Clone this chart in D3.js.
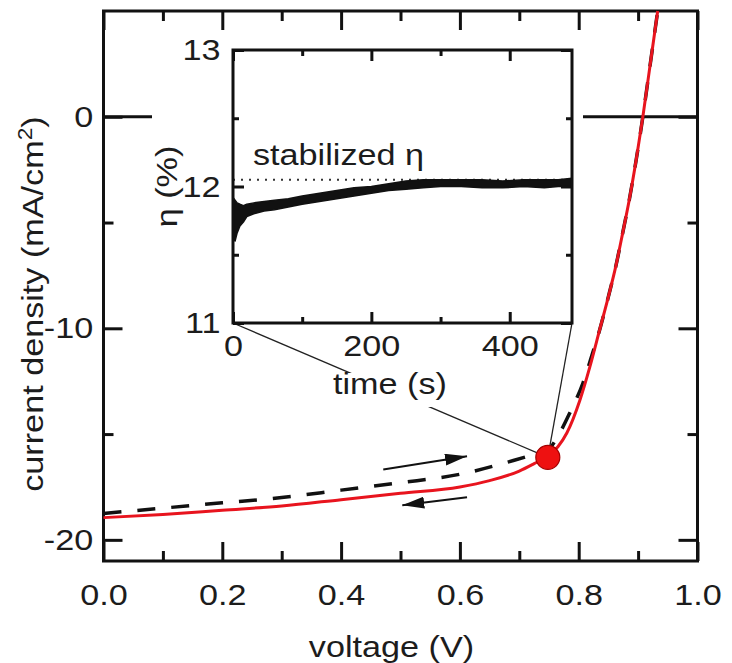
<!DOCTYPE html>
<html>
<head>
<meta charset="utf-8">
<script src="https://cdn.jsdelivr.net/npm/d3@7"></script>
<style>
  body { margin: 0; background: #fff; }
  text { font-family: "Liberation Sans", Arial, sans-serif; fill: #1c1c1c; }
</style>
</head>
<body>
<svg id="chart" width="732" height="663"></svg>
<script>
// ---- J–V scans (voltage in V, current density in mA/cm²) ----
const reverseVoltage = [0, 0.1, 0.2, 0.3, 0.4, 0.5, 0.6, 0.65, 0.7, 0.725, 0.748, 0.765, 0.78, 0.802, 0.819, 0.835, 0.85, 0.863, 0.874, 0.885, 0.897, 0.908, 0.92, 0.933];
const reverseCurrent = [-18.95, -18.8, -18.6, -18.4, -18.1, -17.8, -17.5, -17.2, -16.75, -16.4, -16.05, -15.6, -14.95, -13.4, -11.8, -10.1, -8.5, -7.0, -5.5, -3.95, -2.0, 0, 2.4, 5.0];

const forwardVoltage = [0, 0.1, 0.2, 0.3, 0.4, 0.5, 0.6, 0.69, 0.72, 0.748, 0.765, 0.785, 0.807, 0.822, 0.835, 0.85, 0.863, 0.874, 0.885, 0.897, 0.908, 0.92, 0.933];
const forwardCurrent = [-18.75, -18.5, -18.25, -18.0, -17.65, -17.3, -16.9, -16.25, -16.0, -15.75, -15.1, -14.0, -12.6, -11.3, -10.1, -8.5, -7.0, -5.5, -3.95, -2.0, 0, 2.4, 5.0];

// operating point where the efficiency was tracked
const holdVoltage = [0.748];
const holdCurrent = [-16.1];

// scan-direction arrows: [startV, startJ, endV, endJ]
const forwardArrow = [0.471, -16.67, 0.612, -16.05];
const reverseArrow = [0.612, -17.99, 0.503, -18.37];

// ---- efficiency vs. time (inset) ----
const etaTime = [0, 3, 6, 10, 15, 20, 30, 45, 60, 80, 100, 125, 150, 175, 200, 225, 250, 275, 300, 330, 360, 390, 420, 450, 470, 490];
const etaLow  = [11.62, 11.6, 11.66, 11.71, 11.74, 11.78, 11.8, 11.82, 11.83, 11.85, 11.87, 11.89, 11.91, 11.93, 11.95, 11.97, 11.98, 11.99, 12.0, 12.0, 11.99, 11.99, 12.0, 11.99, 12.0, 12.0];
const etaHigh = [11.92, 11.9, 11.88, 11.87, 11.86, 11.87, 11.88, 11.89, 11.9, 11.91, 11.93, 11.95, 11.97, 11.99, 12.0, 12.02, 12.04, 12.05, 12.05, 12.05, 12.05, 12.04, 12.05, 12.05, 12.05, 12.06];
const stabilizedEta = [12.05];

// ---- tick values ----
const mainXMajor = [0, 0.2, 0.4, 0.6, 0.8, 1.0];
const mainXMinor = [0.1, 0.3, 0.5, 0.7, 0.9];
const mainYMajor = [-20, -10, 0];
const mainYMinor = [-15, -5];
const insetXMajor = [0, 200, 400];
const insetXMinor = [100, 300];
const insetYMajor = [11, 12, 13];
const insetYMinor = [11.5, 12.5];

const svg = d3.select("#chart");
const STRETCH = "scale(1.14,1)";
const FONT = 30;

// main scales
const x = d3.scaleLinear().domain([0, 1]).range([103.5, 697.5]);
const y = d3.scaleLinear().domain([-21, 5]).range([561, 11]);
// inset scales
const xi = d3.scaleLinear().domain([0, 490]).range([233, 572]);
const yi = d3.scaleLinear().domain([11, 13]).range([323, 50]);

function styleAxis(g, width, labelled) {
  g.select(".domain").remove();
  g.selectAll(".tick line").attr("stroke", "#111").attr("stroke-width", width);
  g.selectAll(".tick text")
    .attr("fill", "#1c1c1c")
    .style("font-size", FONT + "px")
    .attr("transform", STRETCH);
  if (!labelled) g.selectAll(".tick text").remove();
}

// plain hyphen-minus labels
const fmtOneDecimal = d => d.toFixed(1);
const fmtInteger = d => String(Math.round(d));

function drawAxes(xs, ys, xMaj, xMin, yMaj, yMin, majLen, minLen, width, padX, padY, fmtX) {
  const [x0, x1] = xs.range();
  const [y0, y1] = ys.range();
  // bottom
  svg.append("g").attr("transform", `translate(0,${y0})`)
    .call(d3.axisBottom(xs).tickValues(xMaj).tickSize(-majLen).tickPadding(padX).tickFormat(fmtX))
    .call(g => styleAxis(g, width, true));
  svg.append("g").attr("transform", `translate(0,${y0})`)
    .call(d3.axisBottom(xs).tickValues(xMin).tickSize(-minLen))
    .call(g => styleAxis(g, width, false));
  // top
  svg.append("g").attr("transform", `translate(0,${y1})`)
    .call(d3.axisTop(xs).tickValues(xMaj).tickSize(-majLen))
    .call(g => styleAxis(g, width, false));
  svg.append("g").attr("transform", `translate(0,${y1})`)
    .call(d3.axisTop(xs).tickValues(xMin).tickSize(-minLen))
    .call(g => styleAxis(g, width, false));
  // left
  svg.append("g").attr("transform", `translate(${x0},0)`)
    .call(d3.axisLeft(ys).tickValues(yMaj).tickSize(-majLen).tickPadding(padY).tickFormat(fmtInteger))
    .call(g => styleAxis(g, width, true));
  svg.append("g").attr("transform", `translate(${x0},0)`)
    .call(d3.axisLeft(ys).tickValues(yMin).tickSize(-minLen))
    .call(g => styleAxis(g, width, false));
  // right
  svg.append("g").attr("transform", `translate(${x1},0)`)
    .call(d3.axisRight(ys).tickValues(yMaj).tickSize(-majLen))
    .call(g => styleAxis(g, width, false));
  svg.append("g").attr("transform", `translate(${x1},0)`)
    .call(d3.axisRight(ys).tickValues(yMin).tickSize(-minLen))
    .call(g => styleAxis(g, width, false));
  // frame
  svg.append("rect")
    .attr("x", x0).attr("y", y1)
    .attr("width", x1 - x0).attr("height", y0 - y1)
    .attr("fill", "none").attr("stroke", "#111").attr("stroke-width", width);
}

// ---- main panel ----
// zero-current line
svg.append("line")
  .attr("x1", x(0)).attr("x2", x(1))
  .attr("y1", y(0)).attr("y2", y(0))
  .attr("stroke", "#111").attr("stroke-width", 3);

// white panel behind the inset
svg.append("rect")
  .attr("x", 152).attr("y", 32)
  .attr("width", 583 - 152).attr("height", 365 - 32)
  .attr("fill", "#fff");

drawAxes(x, y, mainXMajor, mainXMinor, mainYMajor, mainYMinor, 19, 10, 3, 23, 9, fmtOneDecimal);

const jv = d3.line().x(d => x(d[0])).y(d => y(d[1])).curve(d3.curveMonotoneX);

svg.append("path")
  .datum(d3.zip(forwardVoltage, forwardCurrent))
  .attr("d", jv)
  .attr("fill", "none").attr("stroke", "#111")
  .attr("stroke-width", 3.5).attr("stroke-dasharray", "18,16");

svg.append("path")
  .datum(d3.zip(reverseVoltage, reverseCurrent))
  .attr("d", jv)
  .attr("fill", "none").attr("stroke", "#e8141e")
  .attr("stroke-width", 3);

// arrows showing scan direction
svg.append("defs").append("marker")
  .attr("id", "head")
  .attr("markerUnits", "userSpaceOnUse")
  .attr("viewBox", "0 0 22 12")
  .attr("refX", 22).attr("refY", 6)
  .attr("markerWidth", 22).attr("markerHeight", 12)
  .attr("orient", "auto")
  .append("path").attr("d", "M0,0 L22,6 L0,12 Z").attr("fill", "#111");

[forwardArrow, reverseArrow].forEach(a => {
  svg.append("line")
    .attr("x1", x(a[0])).attr("y1", y(a[1]))
    .attr("x2", x(a[2])).attr("y2", y(a[3]))
    .attr("stroke", "#111").attr("stroke-width", 2)
    .attr("marker-end", "url(#head)");
});

// connector lines from the inset to the operating point
const holdX = x(holdVoltage[0]), holdY = y(holdCurrent[0]);
svg.append("line")
  .attr("x1", xi(0)).attr("y1", yi(11)).attr("x2", holdX).attr("y2", holdY)
  .attr("stroke", "#222").attr("stroke-width", 1.3);
svg.append("line")
  .attr("x1", xi(490)).attr("y1", yi(11)).attr("x2", holdX).attr("y2", holdY)
  .attr("stroke", "#222").attr("stroke-width", 1.3);

svg.selectAll("circle.hold")
  .data(d3.zip(holdVoltage, holdCurrent))
  .join("circle")
  .attr("class", "hold")
  .attr("cx", d => x(d[0])).attr("cy", d => y(d[1]))
  .attr("r", 12)
  .attr("fill", "#ee1111").attr("stroke", "#a30000").attr("stroke-width", 1.2);

// main axis titles
svg.append("text")
  .attr("transform", `translate(391.5,657) ${STRETCH}`)
  .attr("text-anchor", "middle")
  .style("font-size", FONT + "px")
  .text("voltage (V)");

const yTitle = svg.append("text")
  .attr("transform", `translate(43,304) rotate(-90) ${STRETCH}`)
  .attr("text-anchor", "middle")
  .style("font-size", FONT + "px");
yTitle.append("tspan").text("current density (mA/cm");
yTitle.append("tspan").attr("dy", -11).style("font-size", "20px").text("2");
yTitle.append("tspan").attr("dy", 11).text(")");

// ---- inset ----
svg.append("line")
  .attr("x1", xi(0)).attr("x2", xi(490))
  .attr("y1", yi(stabilizedEta[0])).attr("y2", yi(stabilizedEta[0]))
  .attr("stroke", "#333").attr("stroke-width", 2)
  .attr("stroke-dasharray", "2,6");

svg.append("path")
  .datum(d3.range(etaTime.length))
  .attr("d", d3.area()
    .x(i => xi(etaTime[i]))
    .y0(i => yi(etaLow[i]))
    .y1(i => yi(etaHigh[i])))
  .attr("fill", "#111").attr("stroke", "#111").attr("stroke-width", 1.5)
  .attr("stroke-linejoin", "round");

drawAxes(xi, yi, insetXMajor, insetXMinor, insetYMajor, insetYMinor, 11, 6, 3, 12, 11, fmtInteger);

svg.append("text")
  .attr("transform", `translate(253,165) ${STRETCH}`)
  .style("font-size", FONT + "px")
  .text("stabilized η");

svg.append("text")
  .attr("transform", `translate(177,186.5) rotate(-90) ${STRETCH}`)
  .attr("text-anchor", "middle")
  .style("font-size", FONT + "px")
  .text("η (%)");

// time axis title sits on a white patch over the connector line
svg.append("rect")
  .attr("x", 330).attr("y", 373).attr("width", 120).attr("height", 34)
  .attr("fill", "#fff");
svg.append("text")
  .attr("transform", `translate(390,394) ${STRETCH}`)
  .attr("text-anchor", "middle")
  .style("font-size", FONT + "px")
  .text("time (s)");
</script>
</body>
</html>
